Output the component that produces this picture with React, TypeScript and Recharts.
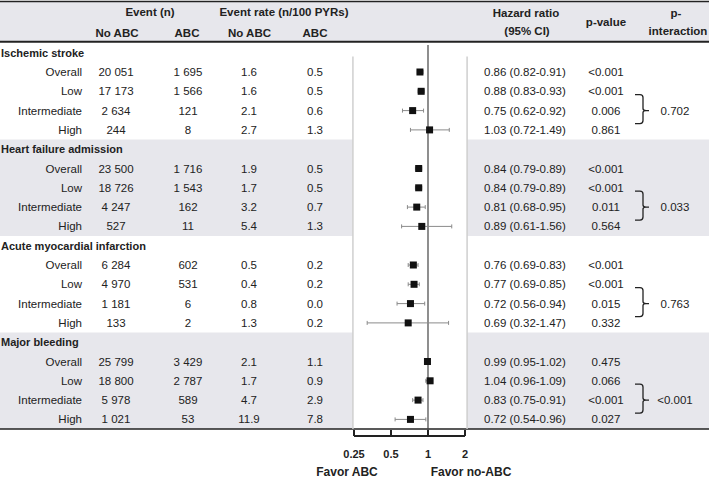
import React from "react";
import {
  ComposedChart,
  Scatter,
  XAxis,
  YAxis,
  ErrorBar,
  ReferenceArea,
  ReferenceLine,
  Customized,
} from "recharts";

// Forest plot: ABC vs no-ABC by risk group, 4 outcomes.
const outcomes = [
  "Ischemic stroke",
  "Heart failure admission",
  "Acute myocardial infarction",
  "Major bleeding",
];
const subgroups = ["Overall", "Low", "Intermediate", "High"];

const eventsNoAbc = [
  [20051, 17173, 2634, 244],
  [23500, 18726, 4247, 527],
  [6284, 4970, 1181, 133],
  [25799, 18800, 5978, 1021],
];
const eventsAbc = [
  [1695, 1566, 121, 8],
  [1716, 1543, 162, 11],
  [602, 531, 6, 2],
  [3429, 2787, 589, 53],
];
const rateNoAbc = [
  [1.6, 1.6, 2.1, 2.7],
  [1.9, 1.7, 3.2, 5.4],
  [0.5, 0.4, 0.8, 1.3],
  [2.1, 1.7, 4.7, 11.9],
];
const rateAbc = [
  [0.5, 0.5, 0.6, 1.3],
  [0.5, 0.5, 0.7, 1.3],
  [0.2, 0.2, 0.0, 0.2],
  [1.1, 0.9, 2.9, 7.8],
];
const hazard = [
  [0.86, 0.88, 0.75, 1.03],
  [0.84, 0.84, 0.81, 0.89],
  [0.76, 0.77, 0.72, 0.69],
  [0.99, 1.04, 0.83, 0.72],
];
const ciLow = [
  [0.82, 0.83, 0.62, 0.72],
  [0.79, 0.79, 0.68, 0.61],
  [0.69, 0.69, 0.56, 0.32],
  [0.95, 0.96, 0.75, 0.54],
];
const ciHigh = [
  [0.91, 0.93, 0.92, 1.49],
  [0.89, 0.89, 0.95, 1.56],
  [0.83, 0.85, 0.94, 1.47],
  [1.02, 1.09, 0.91, 0.96],
];
const pValues = [
  ["<0.001", "<0.001", "0.006", "0.861"],
  ["<0.001", "<0.001", "0.011", "0.564"],
  ["<0.001", "<0.001", "0.015", "0.332"],
  ["0.475", "0.066", "<0.001", "0.027"],
];
const pInteraction = ["0.702", "0.033", "0.763", "<0.001"];
const xTicks = [0.25, 0.5, 1, 2];

// layout
const W = 709;
const H = 481;
const ROW_PX = 19.3;
const FIRST_ROW_PX = 52.7;
const PLOT_BOTTOM = 436;
const PX_PER_DOUBLING = 37;
const ONE_PX = 428;
const FONT = '"Liberation Sans", Arial, Helvetica, sans-serif';
const INK = "#222";
const BAND = "#e7e7ec";

const yTop = -FIRST_ROW_PX / ROW_PX;
const yBottom = (PLOT_BOTTOM - FIRST_ROW_PX) / ROW_PX;
const xMin = Math.pow(2, -ONE_PX / PX_PER_DOUBLING);
const xMax = Math.pow(2, (W - ONE_PX) / PX_PER_DOUBLING);

const fmtCount = (n: number) => String(n).replace(/\B(?=(\d{3})+(?!\d))/g, " ");

type Row = {
  x: number;
  y: number;
  kind: "group" | "sub";
  label: string;
  g: number;
  s: number;
  err?: number[];
};

const textRows: Row[] = [];
const hrRows: Row[] = [];
outcomes.forEach((name, g) => {
  textRows.push({ x: 1, y: g * 5, kind: "group", label: name, g, s: -1 });
  subgroups.forEach((sub, s) => {
    const hr = hazard[g][s];
    const row: Row = {
      x: hr,
      y: g * 5 + 1 + s,
      kind: "sub",
      label: sub,
      g,
      s,
      err: [hr - ciLow[g][s], ciHigh[g][s] - hr],
    };
    textRows.push({ ...row, x: 1 });
    hrRows.push(row);
  });
});

const txt = { fontFamily: FONT, fill: INK };

function TableRow(props: any) {
  const { cy, payload } = props;
  const r: Row = payload;
  if (r.kind === "group") {
    return (
      <text x={1} y={cy} dominantBaseline="central" fontSize={11} fontWeight="bold" {...txt}>
        {r.label}
      </text>
    );
  }
  const { g, s } = r;
  const cell = (x: number, v: string, anchor = "middle") => (
    <text x={x} y={cy} textAnchor={anchor} dominantBaseline="central" fontSize={11.5} {...txt}>
      {v}
    </text>
  );
  const hrText = `${hazard[g][s].toFixed(2)} (${ciLow[g][s].toFixed(2)}-${ciHigh[g][s].toFixed(2)})`;
  let brace = null;
  if (s === 2) {
    const t = cy - 16;
    const b = cy + 13;
    brace = (
      <g>
        <path
          d={`M635 ${t} H640 Q643 ${t} 643 ${t + 3} V${cy - 2} Q643 ${cy} 646 ${cy} H649 M646 ${cy} Q643 ${cy} 643 ${cy + 2} V${b - 3} Q643 ${b} 640 ${b} H635`}
          fill="none"
          stroke={INK}
          strokeWidth={1.3}
        />
        {cell(675, pInteraction[g])}
      </g>
    );
  }
  return (
    <g>
      {cell(82, r.label, "end")}
      {cell(116, fmtCount(eventsNoAbc[g][s]))}
      {cell(188, fmtCount(eventsAbc[g][s]))}
      {cell(249, rateNoAbc[g][s].toFixed(1))}
      {cell(315, rateAbc[g][s].toFixed(1))}
      {cell(484, hrText, "start")}
      {cell(606, pValues[g][s])}
      {brace}
    </g>
  );
}

function Square(props: any) {
  const { cx, cy } = props;
  return <rect x={cx - 3.5} y={cy - 3.5} width={7} height={7} fill="#111" />;
}

function Tick(props: any) {
  const { x, y, payload } = props;
  return (
    <g>
      <line x1={x} x2={x} y1={y - 6} y2={y} stroke={INK} strokeWidth={2} />
      <text x={x} y={y + 22} textAnchor="middle" fontSize={11} fontWeight="bold" {...txt}>
        {payload.value}
      </text>
    </g>
  );
}

// header band, its rules and the column titles (drawn beneath the reference layers)
function HeaderText() {
  const h = (x: number, y: number, v: string, size = 11.5) => (
    <text x={x} y={y} textAnchor="middle" fontSize={size} fontWeight="bold" {...txt}>
      {v}
    </text>
  );
  return (
    <g>
      <rect x={0} y={1.5} width={W} height={40.5} fill={BAND} />
      <line x1={0} x2={W} y1={1.5} y2={1.5} stroke={INK} strokeWidth={1.5} />
      {h(150, 16, "Event (n)")}
      {h(284, 16, "Event rate (n/100 PYRs)")}
      {h(117, 37, "No ABC")}
      {h(187, 37, "ABC")}
      {h(249.5, 37, "No ABC")}
      {h(315, 37, "ABC")}
      {h(526, 17, "Hazard ratio")}
      {h(527, 35, "(95% CI)")}
      {h(606, 26, "p-value")}
      {h(676, 17, "p-")}
      {h(678, 35, "interaction")}
      {h(347, 476, "Favor ABC", 12)}
      {h(471, 476, "Favor no-ABC", 12)}
    </g>
  );
}

export default function App() {
  return (
    <div style={{ position: "absolute", left: 0, top: 0, width: W, height: H, background: "#fff" }}>
      <ComposedChart width={W} height={H} margin={{ top: 0, right: 0, bottom: 0, left: 0 }}>
        <XAxis
          dataKey="x"
          type="number"
          scale="log"
          domain={[xMin, xMax]}
          allowDataOverflow
          ticks={xTicks}
          axisLine={false}
          tickLine={false}
          tickSize={0}
          tickMargin={0}
          tick={<Tick />}
          height={H - PLOT_BOTTOM}
          interval={0}
        />
        <YAxis dataKey="y" type="number" domain={[yTop, yBottom]} reversed hide width={0} allowDataOverflow />
        <Customized component={HeaderText} />

        <ReferenceArea y1={4.5} y2={9.5} fill={BAND} fillOpacity={1} />
        <ReferenceArea y1={14.5} y2={19.5} fill={BAND} fillOpacity={1} />
        <ReferenceLine y={-0.57} stroke={INK} strokeWidth={2} ifOverflow="visible" />
        <ReferenceLine y={19.5} stroke={INK} strokeWidth={1.5} ifOverflow="visible" />

        <ReferenceArea x1={0.245} x2={2.08} y1={-0.45} y2={19.62} fill="#fff" fillOpacity={1} />
        <ReferenceLine
          segment={[{ x: 0.245, y: 0.2 }, { x: 0.245, y: 19.5 }]}
          stroke="#cfcfcf"
          strokeWidth={1.5}
          ifOverflow="visible"
        />
        <ReferenceLine
          segment={[{ x: 2.08, y: 0.2 }, { x: 2.08, y: 19.5 }]}
          stroke="#cfcfcf"
          strokeWidth={1.5}
          ifOverflow="visible"
        />
        <ReferenceLine
          segment={[{ x: 1, y: -0.4 }, { x: 1, y: yBottom }]}
          stroke="#444"
          strokeWidth={1.2}
          ifOverflow="visible"
        />
        <ReferenceLine
          segment={[{ x: 0.25, y: yBottom }, { x: 2, y: yBottom }]}
          stroke={INK}
          strokeWidth={2}
          ifOverflow="visible"
        />

        <Scatter data={hrRows} shape={<Square />} isAnimationActive={false}>
          <ErrorBar dataKey="err" direction="x" width={2} stroke="#8a8a8a" strokeWidth={1} />
        </Scatter>
        <Scatter data={textRows} shape={TableRow} isAnimationActive={false} />
      </ComposedChart>
    </div>
  );
}
